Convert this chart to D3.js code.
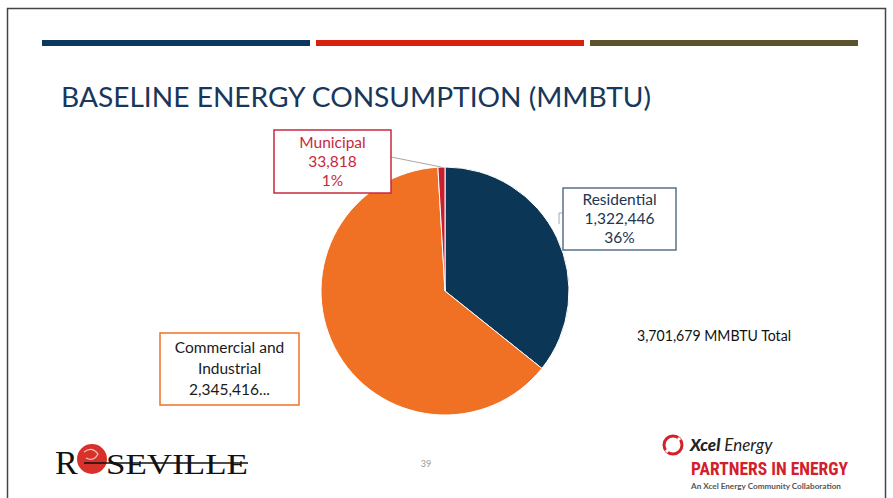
<!DOCTYPE html>
<html>
<head>
<meta charset="utf-8" />
<title>Baseline energy consumption</title>
<script src="https://d3js.org/d3.v7.min.js"></script>
<style>
  body { margin: 0; background: #fff; }
</style>
</head>
<body>
<svg id="chart" font-family="Lato, 'Open Sans', sans-serif"></svg>
<script>
// data
const sectors = ["Residential", "Commercial and Industrial", "Municipal"];
const values = [1322446, 2345416, 33818];
const percents = ["36%", "63%", "1%"];
const totalLabel = "3,701,679 MMBTU Total";

const W = 893, H = 498;
const svg = d3.select('#chart').attr('width', W).attr('height', H);

// slide frame
svg.append('rect').attr('x', 7.5).attr('y', 8.5).attr('width', 878).attr('height', 500)
  .attr('fill', '#fff').attr('stroke', '#444').attr('stroke-width', 1.5);

// top colour bars
const bars = [
  { x: 42, w: 268, c: '#0b385c' },
  { x: 316, w: 268, c: '#d9220e' },
  { x: 590, w: 268, c: '#5a532e' }
];
svg.selectAll('.topbar').data(bars).enter().append('rect')
  .attr('x', d => d.x).attr('y', 40).attr('width', d => d.w).attr('height', 6)
  .attr('fill', d => d.c);

svg.append('text').attr('x', 61).attr('y', 107)
  .attr('font-size', 27).attr('fill', '#18375a')
  .attr('textLength', 590).attr('lengthAdjust', 'spacingAndGlyphs')
  .text('BASELINE ENERGY CONSUMPTION (MMBTU)');

// pie
const colors = d3.scaleOrdinal().domain(sectors).range(['#0c3656', '#f07124', '#c71f2f']);
const cx = 445, cy = 291, r = 124;
const pie = d3.pie().sort(null).value(d => d.v);
const arcs = pie(sectors.map((s, i) => ({ s: s, v: values[i] })));
const arc = d3.arc().innerRadius(0).outerRadius(r);
const g = svg.append('g').attr('transform', `translate(${cx},${cy})`);
g.selectAll('path').data(arcs).enter().append('path')
  .attr('d', arc).attr('fill', d => colors(d.data.s))
  .attr('stroke', '#fff').attr('stroke-width', 1);

// label boxes
const fmt = d3.format(',');
const boxes = [
  { i: 0, x: 563, y: 188, w: 113, h: 62, stroke: '#5a7088', fill: '#1c3552',
    lines: [sectors[0], fmt(values[0]), percents[0]] },
  { i: 1, x: 160, y: 333, w: 139, h: 72, stroke: '#f07124', fill: '#1a1a1a',
    lines: ['Commercial and', 'Industrial', fmt(values[1]) + '...'] },
  { i: 2, x: 274, y: 130, w: 117, h: 63, stroke: '#c8283c', fill: '#c8283c',
    lines: [sectors[2], fmt(values[2]), percents[2]] }
];

// leader lines
const municipalMid = arcs[2];
const ma = (municipalMid.startAngle + municipalMid.endAngle) / 2;
svg.append('polyline')
  .attr('points', `391,157 ${cx + Math.sin(ma) * r},${cy - Math.cos(ma) * r}`)
  .attr('fill', 'none').attr('stroke', '#a8a8a8').attr('stroke-width', 1);
svg.append('polyline')
  .attr('points', '563,213 559,213 559,224')
  .attr('fill', 'none').attr('stroke', '#a8a8a8').attr('stroke-width', 1);

const bg = svg.selectAll('.box').data(boxes).enter().append('g');
bg.append('rect')
  .attr('x', d => d.x).attr('y', d => d.y).attr('width', d => d.w).attr('height', d => d.h)
  .attr('fill', '#fff').attr('stroke', d => d.stroke).attr('stroke-width', 1.5);
bg.each(function (d) {
  const lh = d.i === 1 ? 21 : 19;
  const top = d.y + d.h / 2 - lh * (d.lines.length - 1) / 2 + 5;
  d3.select(this).selectAll('text').data(d.lines).enter().append('text')
    .attr('x', d.x + d.w / 2).attr('y', (t, k) => top + k * lh)
    .attr('text-anchor', 'middle').attr('font-size', 15.5).attr('fill', d.fill)
    .text(t => t);
});

svg.append('text').attr('x', 637).attr('y', 341)
  .attr('font-size', 14.5).attr('fill', '#111')
  .attr('textLength', 154).attr('lengthAdjust', 'spacingAndGlyphs').text(totalLabel);

// page number
svg.append('text').attr('x', 426).attr('y', 467).attr('text-anchor', 'middle')
  .attr('font-size', 9).attr('fill', '#999').text('39');

// Roseville logo
const serif = '"Liberation Serif", "DejaVu Serif", serif';
const logo = svg.append('g');
logo.append('text').attr('x', 55).attr('y', 474)
  .attr('font-family', serif).attr('font-size', 34).attr('fill', '#111')
  .text('R');
logo.append('circle').attr('cx', 92).attr('cy', 459).attr('r', 15).attr('fill', '#d8312b');
logo.append('path').attr('d', 'M84,452 q8,-6 14,2 q-4,8 -12,4').attr('fill', 'none')
  .attr('stroke', '#f6c9c0').attr('stroke-width', 1.2);
logo.append('text').attr('x', 106).attr('y', 474)
  .attr('font-family', serif).attr('font-size', 30).attr('fill', '#111')
  .attr('textLength', 142).attr('lengthAdjust', 'spacingAndGlyphs')
  .text('SEVILLE');
logo.append('line').attr('x1', 84).attr('x2', 248).attr('y1', 463).attr('y2', 463)
  .attr('stroke', '#111').attr('stroke-width', 1.5);

// Xcel Energy logo
const xl = svg.append('g');
xl.append('circle').attr('cx', 673).attr('cy', 445).attr('r', 9)
  .attr('fill', 'none').attr('stroke', '#d4202a').attr('stroke-width', 3);
xl.append('line').attr('x1', 666).attr('y1', 452).attr('x2', 680).attr('y2', 438)
  .attr('stroke', '#fff').attr('stroke-width', 3);
xl.append('text').attr('x', 690).attr('y', 451).attr('font-size', 17).attr('font-style', 'italic')
  .attr('fill', '#222')
  .html('<tspan font-weight="900">Xcel</tspan><tspan> Energy</tspan>');
xl.append('text').attr('x', 691).attr('y', 475).attr('font-family', '"Roboto Condensed", Roboto, sans-serif')
  .attr('font-size', 18).attr('font-weight', 'bold').attr('fill', '#d4202a')
  .attr('textLength', 157).attr('lengthAdjust', 'spacingAndGlyphs')
  .text('PARTNERS IN ENERGY');
xl.append('text').attr('x', 691).attr('y', 489).attr('font-size', 7).attr('font-weight', 'bold')
  .attr('fill', '#555').attr('textLength', 150).attr('lengthAdjust', 'spacingAndGlyphs')
  .text('An Xcel Energy Community Collaboration');
</script>
</body>
</html>
